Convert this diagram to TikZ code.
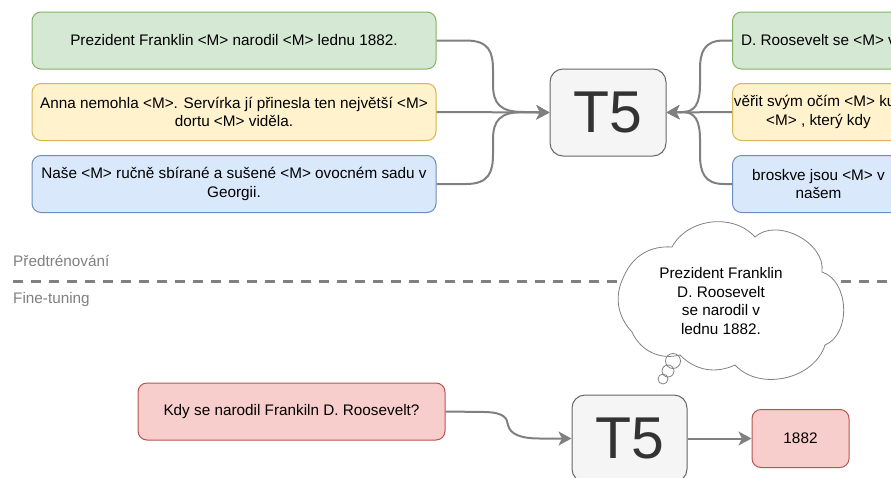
\documentclass[tikz,border=0pt]{standalone}
\usepackage{fontspec}
\setmainfont{Liberation Sans}
\usetikzlibrary{arrows.meta}

\definecolor{gfill}{HTML}{D5E8D4}\definecolor{gline}{HTML}{82B366}
\definecolor{yfill}{HTML}{FFF2CC}\definecolor{yline}{HTML}{D6B656}
\definecolor{bfill}{HTML}{DAE8FC}\definecolor{bline}{HTML}{6C8EBF}
\definecolor{rfill}{HTML}{F8CECC}\definecolor{rline}{HTML}{B85450}
\definecolor{mfill}{HTML}{F5F5F5}\definecolor{mline}{HTML}{666666}
\definecolor{mtext}{HTML}{333333}
\definecolor{conn}{HTML}{808080}

\tikzset{
  txt/.style={font=\fontsize{15.3}{18.4}\selectfont},
  box/.style={txt, draw, rounded corners=9pt, line width=1pt, align=center, inner sep=0pt},
  greenbox/.style={box, fill=gfill, draw=gline},
  yellowbox/.style={box, fill=yfill, draw=yline},
  bluebox/.style={box, fill=bfill, draw=bline},
  redbox/.style={box, fill=rfill, draw=rline},
  widebox/.style={minimum width=404pt, minimum height=57pt},
  narrowbox/.style={minimum width=172pt, minimum height=57pt},
  model/.style={draw=mline, fill=mfill, text=mtext, rounded corners=13pt, line width=1pt,
    minimum width=116pt, minimum height=87pt, inner sep=0pt, font=\fontsize{59}{60}\selectfont},
  link/.style={draw=conn, line width=2pt, -{Stealth[length=13pt, width=14pt, inset=3.5pt]}},
  phase/.style={txt, text=conn, anchor=west, inner sep=0pt},
  thought/.style={draw=conn, line width=0.8pt}
}

\begin{document}
\begin{tikzpicture}[x=1pt, y=-1pt]
\useasboundingbox (0,0) rectangle (891,477);
\clip (0,0) rectangle (891,477);

% pre-training: masked inputs on the left
\node[greenbox, widebox]  (lg) at (234,40.5) {Prezident Franklin <M> narodil <M> lednu 1882.};
\node[yellowbox, widebox] (ly) at (234,112) {Anna nemohla <M>. Servírka jí přinesla ten největší <M>\\dortu <M> viděla.};
\node[bluebox, widebox]   (lb) at (234,184) {Naše <M> ručně sbírané a sušené <M> ovocném sadu v\\Georgii.};

% model
\node[model] (t5) at (608,112.5) {T5};

% pre-training: targets on the right
\node[greenbox, narrowbox]  (rg) at (818.5,40.5) {D. Roosevelt se <M> v};
\node[yellowbox, narrowbox] (ry) at (818.5,112) {věřit svým očím <M> kus\\<M> , který kdy};
\node[bluebox, narrowbox]   (rb) at (818.5,184) {broskve jsou <M> v\\našem};

% connectors into the model
\draw[link] (lg.east) -- (466,40.5) .. controls (489,40.5) and (493,52) .. (493,70)
  -- (493,84) .. controls (493,104) and (500,112) .. (524,112) -- (t5.west);
\draw[link] (ly.east) -- (t5.west);
\draw[link] (lb.east) -- (466,184) .. controls (489,184) and (493,172) .. (493,154)
  -- (493,140) .. controls (493,120) and (500,112) .. (524,112) -- (t5.west);

\draw[link] (rg.west) -- (724,40.5) .. controls (704,40.5) and (700,52) .. (700,70)
  -- (700,84) .. controls (700,104) and (695,112) .. (682,112) -- (t5.east);
\draw[link] (ry.west) -- (t5.east);
\draw[link] (rb.west) -- (724,184) .. controls (704,184) and (700,172) .. (700,154)
  -- (700,140) .. controls (700,120) and (695,112) .. (682,112) -- (t5.east);

% phase separator
\node[phase] (pre) at (13,261) {Předtrénování};
\node[phase] (fine) at (13,300) {Fine-tuning};
\coordinate (sepL) at (13,281);
\coordinate (sepR) at (891,281);
\draw[conn, line width=3pt, dash pattern=on 10pt off 8pt] (sepL) -- (sepR);

% thought cloud
\draw[thought, fill=white]
  (632,332) to[bend left=35] (624,276)
  to[bend left=35] (672,247)
  to[bend left=55] (755,237)
  to[bend left=70] (822,272)
  to[bend left=70] (825,345)
  to[bend left=60] (735,365)
  to[bend left=35] (680,355)
  to[bend left=40] cycle;
\draw[thought] (673,361) circle (7.5pt);
\draw[thought] (668,371) circle (6pt);
\draw[thought] (663,379) circle (5pt);
\node[txt, align=center] (fact) at (721,301) {Prezident Franklin\\D. Roosevelt\\se narodil v\\lednu 1882.};

% fine-tuning
\node[redbox, minimum width=307pt, minimum height=57pt] (q) at (291.5,411.5) {Kdy se narodil Frankiln D. Roosevelt?};
\node[model, minimum width=115pt] (t5b) at (629.5,438.5) {T5};
\node[redbox, minimum width=97pt, minimum height=58pt] (ans) at (800.5,438.5) {1882};

\draw[link] (q.east) -- (485,412) .. controls (504,412.5) and (507,418) .. (508,425)
  .. controls (510,434) and (520,438.5) .. (540,438.5) -- (t5b.west);
\draw[link] (t5b.east) -- (ans.west);
\end{tikzpicture}
\end{document}
